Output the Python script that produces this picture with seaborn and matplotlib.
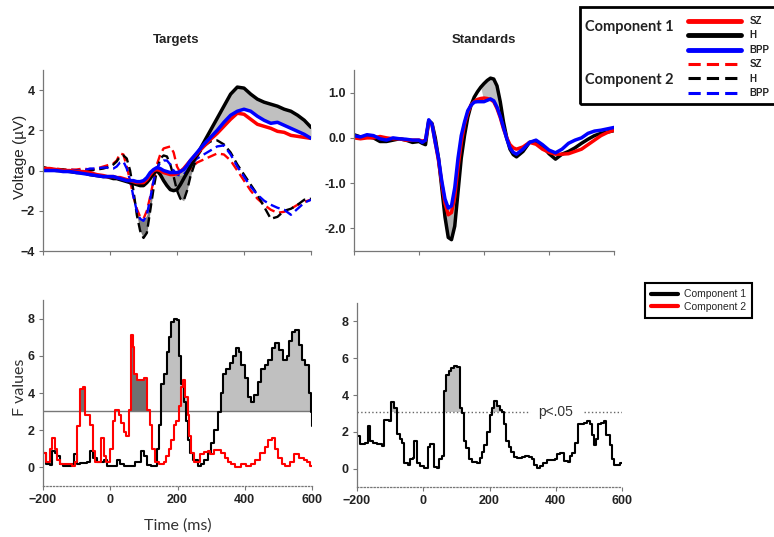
import numpy as np
import matplotlib
matplotlib.use("Agg")
import matplotlib.pyplot as plt
from matplotlib.patches import Rectangle
from matplotlib.lines import Line2D
import seaborn as sns

# ---------------- Targets ERPs (top left) ----------------
t_tgt = [-200, -180, -160, -140, -120, -100, -80, -60, -40, -20,
         -10, 0, 10, 20, 30, 40, 50, 60, 70, 80, 90, 100, 110, 120, 130,
         140, 150, 160, 170, 180, 190, 200, 210, 220, 230, 240,
         260, 280, 300, 320, 340, 360, 380, 400, 420, 440, 460, 480, 500,
         520, 540, 560, 580, 600]
tgt_c1_h = [0.15, 0.05, 0.0, 0.0, -0.05, -0.1, -0.1, -0.2, -0.25, -0.3,
            -0.3, -0.35, -0.4, -0.4, -0.45, -0.5, -0.55, -0.6, -0.65, -0.7, -0.75, -0.75, -0.6, -0.4, -0.15,
            0.0, -0.2, -0.5, -0.75, -0.95, -1.0, -0.95, -0.7, -0.4, -0.1, 0.2,
            0.8, 1.4, 2.0, 2.6, 3.2, 3.8, 4.15, 4.1, 3.8, 3.55, 3.4, 3.3, 3.2, 3.05, 2.95, 2.75, 2.5, 2.15]
tgt_c1_sz = [0.1, 0.1, 0.05, 0.0, 0.0, -0.05, -0.05, -0.1, -0.2, -0.25,
             -0.3, -0.3, -0.3, -0.35, -0.35, -0.4, -0.45, -0.5, -0.55, -0.6, -0.6, -0.6, -0.45, -0.2, 0.0,
             0.05, 0.0, -0.1, -0.15, -0.2, -0.2, -0.15, -0.05, 0.1, 0.3, 0.5,
             0.85, 1.2, 1.55, 1.85, 2.2, 2.55, 2.85, 2.8, 2.55, 2.3, 2.2, 2.1, 1.95, 1.9, 1.75, 1.7, 1.65, 1.6]
tgt_c1_bpp = [0.0, 0.0, 0.0, -0.05, -0.05, -0.1, -0.15, -0.2, -0.25, -0.3,
              -0.3, -0.3, -0.3, -0.35, -0.4, -0.45, -0.5, -0.5, -0.5, -0.55, -0.55, -0.5, -0.35, -0.1, 0.05,
              0.15, 0.1, 0.0, -0.05, -0.1, -0.1, -0.1, -0.05, 0.05, 0.25, 0.5,
              0.9, 1.3, 1.65, 2.0, 2.4, 2.75, 2.95, 3.05, 2.95, 2.7, 2.5, 2.35, 2.4, 2.25, 2.1, 1.95, 1.8, 1.6]
tgt_c2_sz = [0.15, 0.1, 0.1, 0.05, 0.05, 0.05, 0.1, 0.05, 0.1, 0.2,
             0.25, 0.3, 0.35, 0.5, 0.85, 0.8, 0.2, -0.5, -1.3, -1.9, -2.3, -2.4, -2.0, -1.3, -0.5,
             0.3, 0.8, 1.1, 1.15, 1.2, 0.9, 0.2, -0.1, -0.15, -0.1, 0.1,
             0.4, 0.55, 0.7, 0.85, 0.8, 0.5, 0.0, -0.5, -1.0, -1.4, -1.7, -1.95, -2.1, -2.05, -1.9, -1.7, -1.55, -1.45]
tgt_c2_h = [0.05, 0.0, 0.0, 0.05, 0.0, 0.0, -0.05, 0.0, 0.05, 0.1,
            0.15, 0.2, 0.3, 0.45, 0.7, 0.75, 0.6, 0.0, -1.0, -2.2, -3.0, -3.35, -3.1, -2.0, -0.9,
            0.0, 0.6, 0.75, 0.7, 0.3, -0.3, -1.0, -1.4, -1.5, -1.0, -0.3,
            0.7, 1.2, 1.45, 1.5, 1.3, 0.9, 0.3, -0.2, -0.7, -1.2, -1.8, -2.4, -2.3, -2.0, -1.9, -1.7, -1.45, -1.4]
tgt_c2_bpp = [0.05, 0.0, 0.0, 0.0, 0.05, 0.0, 0.0, 0.1, 0.1, 0.15,
              0.15, 0.1, 0.1, 0.2, 0.4, 0.45, 0.1, -0.5, -1.3, -2.0, -2.4, -2.5, -2.2, -1.4, -0.5,
              0.1, 0.4, 0.5, 0.5, 0.3, 0.0, -0.2, -0.25, -0.2, 0.0, 0.3,
              0.6, 0.8, 1.0, 1.2, 1.25, 0.8, 0.2, -0.3, -0.8, -1.2, -1.5, -1.7, -1.85, -1.95, -2.2, -1.9, -1.6, -1.45]

# ---------------- Standards ERPs (top right) ----------------
t_std = [-200, -180, -160, -140, -120, -100, -80, -60, -40, -20,
         0, 10, 20, 30, 40, 50, 60, 70, 80, 90, 100, 110, 120, 130, 140, 150,
         160, 170, 180, 190, 200, 210, 220, 230, 240, 250, 260, 270, 280, 290, 300,
         320, 340, 360, 380, 400, 420, 440, 460, 480, 500, 520, 540, 560, 580, 600]
std_h = [0.07, 0.02, 0.03, 0.0, -0.08, -0.08, -0.05, -0.02, -0.05, -0.1,
         -0.08, -0.12, -0.15, 0.38, 0.32, 0.0, -0.45, -1.1, -1.75, -2.2, -2.25, -1.95, -1.2, -0.45, 0.05, 0.45,
         0.72, 0.9, 1.02, 1.12, 1.2, 1.27, 1.32, 1.3, 1.15, 0.8, 0.35, 0.0, -0.25, -0.37, -0.42,
         -0.3, -0.1, -0.07, -0.18, -0.35, -0.47, -0.36, -0.3, -0.22, -0.12, -0.03, 0.05, 0.1, 0.13, 0.16]
std_sz = [0.0, -0.02, 0.0, 0.0, 0.03, 0.0, -0.02, -0.02, -0.05, -0.05,
          -0.05, -0.07, -0.05, 0.35, 0.3, -0.1, -0.5, -1.0, -1.45, -1.7, -1.65, -1.3, -0.65, -0.1, 0.3, 0.55,
          0.73, 0.8, 0.85, 0.87, 0.88, 0.87, 0.85, 0.8, 0.65, 0.45, 0.2, 0.0, -0.15, -0.22, -0.25,
          -0.2, -0.1, -0.14, -0.25, -0.32, -0.36, -0.36, -0.35, -0.3, -0.25, -0.15, -0.05, 0.05, 0.12, 0.17]
std_bpp = [0.05, 0.02, 0.07, 0.05, -0.02, -0.05, 0.0, -0.02, -0.03, -0.05,
           -0.05, -0.1, -0.05, 0.4, 0.3, -0.1, -0.45, -0.95, -1.35, -1.55, -1.5, -1.1, -0.45, 0.05, 0.35, 0.6,
           0.72, 0.79, 0.8, 0.8, 0.8, 0.83, 0.86, 0.82, 0.68, 0.48, 0.23, -0.02, -0.22, -0.32, -0.36,
           -0.25, -0.1, -0.05, -0.15, -0.27, -0.33, -0.25, -0.12, -0.05, 0.0, 0.1, 0.15, 0.17, 0.2, 0.23]

# ---------------- F values, Targets (bottom left), step data ----------------
t_f1 = [-200, -190, -180, -172, -165, -158, -150, -140, -115, -108, -100, -90, -70, -60, -52, -40,
        -20, -10, 10, 20, 30, 40, 65, 75, 90, 100, 110, 120, 138, 145, 152, 160, 170, 175, 182,
        190, 198, 205, 210, 218, 225, 232, 238, 245, 260, 270, 280, 290, 300, 310, 320, 328, 335,
        345, 355, 365, 375, 382, 390, 400, 410, 418, 428, 438, 448, 460, 470, 480, 490, 502, 515,
        525, 532, 540, 550, 560, 570, 580, 590, 598, 600]
f_tgt_c1 = [0.8, 0.2, 0.15, 0.9, 0.8, 0.6, 0.2, 0.1, 0.2, 0.7, 0.2, 0.25, 0.3, 0.9, 0.5, 0.3,
            0.4, 0.1, 0.1, 0.4, 0.2, 0.05, 0.05, 0.3, 0.9, 0.6, 0.15, 0.1, 1.0, 2.3, 4.5, 5.0, 6.2, 7.0, 7.8,
            8.0, 7.9, 6.0, 4.5, 3.5, 2.5, 1.5, 0.8, 0.4, 0.1, 0.2, 0.4, 0.8, 1.3, 2.0, 3.0, 4.0, 5.0,
            5.3, 5.6, 6.0, 6.4, 6.2, 5.5, 4.8, 3.8, 3.5, 3.9, 4.6, 5.3, 5.5, 5.8, 6.4, 6.7, 6.3, 5.8,
            6.0, 6.8, 7.3, 7.4, 6.6, 5.8, 5.5, 4.0, 3.0, 2.2]
t_f2 = [-200, -192, -185, -180, -172, -165, -158, -150, -115, -105, -98, -90, -82, -75, -60, -52,
        -45, -35, -28, -20, -12, 0, 8, 15, 25, 32, 40, 48, 55, 62, 68, 72, 80, 100, 110, 118, 125,
        132, 145, 160, 165, 175, 182, 190, 197, 205, 210, 215, 222, 230, 235, 240, 248, 260, 268,
        280, 290, 298, 310, 330, 340, 350, 360, 370, 390, 405, 420, 430, 445, 460, 470, 482, 490,
        500, 510, 520, 535, 545, 560, 575, 585, 595, 600]
f_tgt_c2 = [0.8, 0.3, 0.3, 1.0, 1.6, 1.0, 0.4, 0.2, 0.1, 0.3, 2.2, 4.2, 4.3, 2.8, 2.3, 0.9,
            0.3, 0.3, 1.6, 0.6, 0.3, 1.0, 2.5, 3.1, 2.8, 2.4, 1.9, 1.7, 3.1, 7.1, 6.5, 5.0, 4.7, 4.8, 3.1, 2.3, 1.0,
            0.3, 0.2, 0.3, 0.6, 1.0, 1.5, 2.3, 2.5, 3.3, 4.3, 4.7, 3.8, 2.8, 1.7, 0.8, 0.3, 0.3, 0.7,
            0.85, 0.9, 0.7, 0.95, 0.8, 0.5, 0.3, 0.2, 0.0, 0.2, 0.05, 0.2, 0.4, 0.8, 1.1, 1.5, 1.6, 1.0,
            0.5, 0.2, 0.05, 0.3, 0.7, 0.5, 0.4, 0.3, 0.1, 0.05]

# ---------------- F values, Standards (bottom right) ----------------
t_fs = [-200, -190, -175, -168, -160, -152, -140, -125, -118, -104, -97, -87, -79, -71, -64, -57,
        -47, -39, -31, -27, -19, -11, 1, 13, 21, 31, 41, 49, 57, 62, 70, 77, 84, 94, 102, 110, 117,
        122, 130, 137, 147, 162, 170, 177, 184, 192, 200, 207, 214, 223, 231, 238, 243, 251, 258,
        265, 273, 283, 298, 308, 318, 328, 335, 343, 353, 363, 373, 399, 404, 414, 424, 436, 442,
        449, 459, 466, 484, 494, 502, 509, 514, 522, 529, 536, 545, 553, 563, 570, 577, 587, 595, 600]
f_std = [1.75, 1.35, 1.4, 2.3, 1.5, 1.4, 1.35, 1.25, 2.65, 2.6, 3.6, 3.3, 1.9, 1.6, 1.4, 0.3,
         0.2, 0.5, 0.6, 1.5, 0.3, 0.15, 0.05, 1.2, 1.35, 0.1, 0.05, 0.5, 0.7, 4.2, 5.1, 5.3, 5.45, 5.6, 5.5, 3.3, 3.0,
         1.5, 1.1, 0.5, 0.35, 0.3, 0.6, 0.9, 1.3, 2.0, 2.9, 3.3, 3.7, 3.4, 3.2, 3.1, 2.4, 1.5, 1.2,
         0.9, 0.65, 0.6, 0.65, 0.7, 0.65, 0.5, 0.2, 0.05, 0.15, 0.3, 0.45, 0.5, 0.8, 0.85, 0.4, 0.35, 0.7,
         0.85, 1.4, 2.4, 2.5, 2.6, 2.4, 1.8, 1.3, 1.6, 2.4, 2.5, 2.6, 1.8, 1.3, 0.5, 0.2, 0.2, 0.3, 0.3]

p_crit = 3.05
x_ticks = [-200, 0, 200, 400, 600]

sns.set_style("ticks")
plt.rcParams['font.family'] = ['Liberation Sans', 'DejaVu Sans']

W, H = 774, 537
fig = plt.figure(figsize=(W / 100, H / 100), dpi=100)


def box(l, t, r, b):
    return [l / W, 1 - b / H, (r - l) / W, (b - t) / H]


ax_t = fig.add_axes(box(43, 70, 311, 251))
ax_s = fig.add_axes(box(354, 70, 614, 251))
ax_ft = fig.add_axes(box(43, 300, 312, 486))
ax_fs = fig.add_axes(box(357, 303, 622, 487))

solid_lw = 2.5
dash_lw = 1.7
dash = (0, (4, 2))

# --- Targets ---
tt = np.array(t_tgt)
ax_t.fill_between(tt, tgt_c1_h, tgt_c1_bpp, where=tt >= 300, color='#c0c0c0', lw=0, interpolate=True)
ax_t.fill_between(tt, tgt_c1_h, tgt_c1_bpp, where=(tt >= 140) & (tt <= 240), color='#b0b0b0', lw=0, interpolate=True)
ax_t.fill_between(tt, tgt_c2_h, tgt_c2_bpp, where=(tt >= 80) & (tt <= 120), color='#808080', lw=0, interpolate=True)
ax_t.fill_between(tt, tgt_c2_h, tgt_c2_bpp, where=(tt >= 200) & (tt <= 240), color='#909090', lw=0, interpolate=True)
for vals, col in [(tgt_c2_sz, 'red'), (tgt_c2_h, 'black'), (tgt_c2_bpp, 'blue')]:
    sns.lineplot(x=t_tgt, y=vals, ax=ax_t, color=col, lw=dash_lw, linestyle=dash)
for vals, col in [(tgt_c1_h, 'black'), (tgt_c1_sz, 'red'), (tgt_c1_bpp, 'blue')]:
    sns.lineplot(x=t_tgt, y=vals, ax=ax_t, color=col, lw=solid_lw)
ax_t.set_ylim(-4, 5)
ax_t.set_yticks([-4, -2, 0, 2, 4])

# --- Standards ---
ts = np.array(t_std)
ax_s.fill_between(ts, std_h, std_bpp, where=(ts >= 80) & (ts <= 110), color='#b0b0b0', lw=0, interpolate=True)
ax_s.fill_between(ts, std_h, std_bpp, where=(ts >= 200) & (ts <= 250), color='#c0c0c0', lw=0, interpolate=True)
for vals, col in [(std_h, 'black'), (std_sz, 'red'), (std_bpp, 'blue')]:
    sns.lineplot(x=t_std, y=vals, ax=ax_s, color=col, lw=solid_lw)
ax_s.set_ylim(-2.5, 1.5)
ax_s.set_yticks([-2, -1, 0, 1])
ax_s.set_yticklabels(['-2.0', '-1.0', '0.0', '1.0'])

# --- F values, Targets ---
t1 = np.array(t_f1)
t2 = np.array(t_f2)
f1 = np.array(f_tgt_c1)
f2 = np.array(f_tgt_c2)
ax_ft.fill_between(t1, p_crit, np.maximum(f1, p_crit), step='post', color='#c0c0c0', lw=0)
ax_ft.fill_between(t2, p_crit, np.maximum(f2, p_crit), where=t2 < 150, step='post', color='#707070', lw=0)
ax_ft.fill_between(t2, p_crit, np.maximum(f2, p_crit), where=t2 >= 150, step='post', color='#c0c0c0', lw=0)
ax_ft.axhline(p_crit, color='#777777', lw=1)
sns.lineplot(x=t_f1, y=f_tgt_c1, ax=ax_ft, color='black', lw=1.5, drawstyle='steps-post')
sns.lineplot(x=t_f2, y=f_tgt_c2, ax=ax_ft, color='red', lw=1.5, drawstyle='steps-post')

# --- F values, Standards ---
t3 = np.array(t_fs)
f3 = np.array(f_std)
ax_fs.fill_between(t3, p_crit, np.maximum(f3, p_crit), step='post', color='#c0c0c0', lw=0)
ax_fs.hlines(p_crit, -200, 323, color='#666666', lw=1, linestyle=':')
ax_fs.hlines(p_crit, 484, 600, color='#666666', lw=1, linestyle=':')
ax_fs.text(400, p_crit, 'p<.05', ha='center', va='center', fontsize=10, color='#333333')
sns.lineplot(x=t_fs, y=f_std, ax=ax_fs, color='black', lw=1.5, drawstyle='steps-post')

for ax in (ax_ft, ax_fs):
    ax.set_ylim(-1, 9)
    ax.set_yticks([0, 2, 4, 6, 8])
    ax.spines['bottom'].set_linestyle(':')

for ax in (ax_t, ax_s, ax_ft, ax_fs):
    ax.set_xlim(-200, 600)
    ax.set_xticks(x_ticks)
    ax.set_xlabel('')
    ax.set_ylabel('')
    sns.despine(ax=ax)
    for sp in ('left', 'bottom'):
        ax.spines[sp].set_color('#777777')
        ax.spines[sp].set_linewidth(0.9)
    ax.tick_params(length=3, width=0.8, color='#777777', labelsize=9, pad=3)
    for lab in ax.get_xticklabels() + ax.get_yticklabels():
        lab.set_fontweight('bold')
        lab.set_color('#222222')

ax_t.set_xticklabels([])
ax_s.set_xticklabels([])

ax_t.set_ylabel('Voltage (\u00b5V)', fontsize=11, color='#222222')
ax_t.yaxis.set_label_coords(-0.06, 0.52)
ax_ft.set_ylabel('F values', fontsize=11.5, color='#333333', family=['Lato', 'DejaVu Sans'])
ax_ft.yaxis.set_label_coords(-0.06, 0.53)
ax_ft.set_xlabel('Time (ms)', fontsize=11.5, color='#333333', family=['Lato', 'DejaVu Sans'])
ax_ft.xaxis.set_label_coords(0.5, -0.175)

fig.text(176 / W, 1 - 40 / H, 'Targets', ha='center', va='center', fontsize=9.5, fontweight='bold', color='#222222')
fig.text(484 / W, 1 - 40 / H, 'Standards', ha='center', va='center', fontsize=9.5, fontweight='bold', color='#222222')

# --- top legend ---
fig.add_artist(Rectangle((580 / W, 1 - 104 / H), 0.3, 97 / H, transform=fig.transFigure,
                         fill=False, lw=2, ec='black', clip_on=False))
fig.text(585 / W, 1 - 27 / H, 'Component 1', ha='left', va='center', fontsize=10.5, fontweight='bold',
         family=['Lato', 'DejaVu Sans'], color='#222222')
fig.text(585 / W, 1 - 80 / H, 'Component 2', ha='left', va='center', fontsize=10.5, fontweight='bold',
         family=['Lato', 'DejaVu Sans'], color='#222222')
top_handles = [Line2D([], [], color='red', lw=3.5), Line2D([], [], color='black', lw=3.5),
               Line2D([], [], color='blue', lw=3.5),
               Line2D([], [], color='red', lw=2.2, linestyle=(0, (4, 2))),
               Line2D([], [], color='black', lw=2.2, linestyle=(0, (4, 2))),
               Line2D([], [], color='blue', lw=2.2, linestyle=(0, (4, 2)))]
fig.legend(top_handles, ['SZ', 'H', 'BPP', 'SZ', 'H', 'BPP'], loc='upper left',
           bbox_to_anchor=(688 / W, 1 - 16 / H), frameon=False, borderpad=0, borderaxespad=0,
           handlelength=5.5, handletextpad=0.8, labelspacing=0.46,
           prop={'weight': 'bold', 'size': 7})

# --- bottom legend ---
bot_handles = [Line2D([], [], color='black', lw=3), Line2D([], [], color='red', lw=3)]
leg = fig.legend(bot_handles, ['Component 1', 'Component 2'], loc='upper left',
                 bbox_to_anchor=(645 / W, 1 - 283 / H), frameon=True, fancybox=False,
                 edgecolor='black', framealpha=1, borderpad=0.6, borderaxespad=0,
                 handlelength=2.6, handletextpad=0.5, labelspacing=0.25,
                 prop={'size': 7.5})
leg.get_frame().set_linewidth(1.5)

fig.savefig('out.png', dpi=100)
